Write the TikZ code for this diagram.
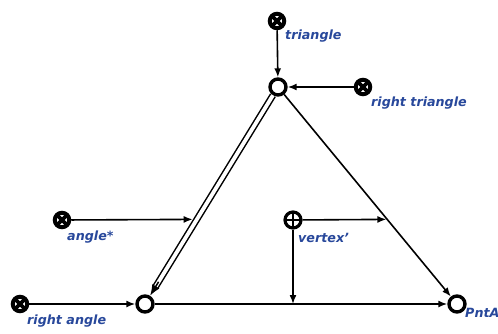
\documentclass[tikz,border=0pt]{standalone}
\usepackage{fontspec}
\setmainfont{DejaVu Sans}
\usetikzlibrary{arrows.meta,calc}
\definecolor{lblc}{RGB}{40,72,155}
\begin{document}
\begin{tikzpicture}[x=1pt,y=-1pt,
  vtx/.style={circle,draw,line width=3.4pt,minimum size=16pt,inner sep=0pt,fill=white},
  srcx/.style={circle,draw,line width=4pt,minimum size=14.5pt,inner sep=0pt,fill=white,
    path picture={\draw[line width=3.6pt]
      (path picture bounding box.north west) -- (path picture bounding box.south east)
      (path picture bounding box.north east) -- (path picture bounding box.south west);}},
  srcp/.style={circle,draw,line width=3.2pt,minimum size=16pt,inner sep=0pt,fill=white,
    path picture={\draw[line width=1.8pt]
      (path picture bounding box.north) -- (path picture bounding box.south)
      (path picture bounding box.east) -- (path picture bounding box.west);}},
  arr/.style={line width=1.6pt,-{Latex[length=9pt,width=7pt]}},
  lbl/.style={font=\fontsize{12.7}{15}\selectfont\bfseries\itshape,text=lblc,inner sep=0pt,anchor=west}
]
\useasboundingbox (0,0) rectangle (498,333);
% main vertices
\node[vtx] (T) at (278,87) {};
\node[vtx] (L) at (145,304) {};
\node[vtx] (R) at (457,304) {};
% sources
\node[srcx] (s1) at (277,21) {};
\node[srcx] (s2) at (363,87) {};
\node[srcx] (s3) at (62,220) {};
\node[srcx] (s4) at (20,304) {};
\node[srcp] (s5) at (293,220) {};
% labels
\node[lbl] (l1) at (285,36) {triangle};
\node[lbl] (l2) at (371,103) {right triangle};
\node[lbl] (l3) at (67,237) {angle*};
\node[lbl] (l4) at (298,238) {vertex'};
\node[lbl] (l5) at (27,321) {right angle};
\node[lbl] (l6) at (465,313) {PntA};
% connectors
\draw[arr] (s1) -- (T);
\draw[arr] (s2) -- (T);
\draw[arr] (s4) -- (L);
\draw[arr] (L) -- (R);
\draw[arr] (T) -- (R);
\draw[line width=1.5pt,double distance=3.8pt,shorten >=10pt] (T) -- (L);
\coordinate (dl) at ($(L)!26pt!(T)$);
\draw[line width=1.5pt,-{Latex[length=11pt,width=8.5pt]}] (dl) -- (L);
\coordinate (m1) at ($(T)!0.61!(L)$);
\coordinate (m2) at ($(T)!0.61!(R)$);
\draw[arr,shorten >=4.2pt] (s3) -- (m1);
\draw[arr,shorten >=0.8pt] (s5) -- (m2);
\draw[arr] (s5) -- (s5 |- L);
\end{tikzpicture}
\end{document}
